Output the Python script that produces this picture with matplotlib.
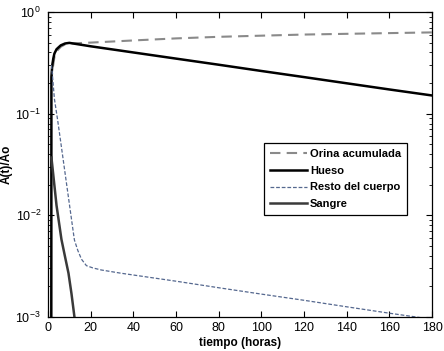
import numpy as np
import matplotlib
matplotlib.use("Agg")
import matplotlib.pyplot as plt
from matplotlib.ticker import LogLocator, NullFormatter

plt.rcParams['font.family'] = ['Liberation Sans', 'DejaVu Sans']

# datos (A(t)/Ao vs tiempo en horas)
t_orina = [1.6, 2, 3, 4, 6, 8, 10, 20, 40, 60, 80, 100, 120, 140, 160, 180]
orina = [0.2, 0.26, 0.36, 0.41, 0.455, 0.48, 0.49, 0.50, 0.525, 0.55, 0.57,
         0.585, 0.60, 0.61, 0.62, 0.63]

t_hueso = [1.5, 1.6, 2, 2.5, 3, 4, 5, 6, 8, 10, 20, 40, 60, 80, 100, 120,
           140, 160, 180]
hueso = [1e-5, 0.23, 0.3, 0.35, 0.39, 0.43, 0.45, 0.47, 0.49, 0.497, 0.46,
         0.40, 0.348, 0.303, 0.263, 0.229, 0.199, 0.173, 0.151]

t_resto = [1.6, 2, 3, 4.5, 6, 8, 10, 12, 12.4, 14, 15.7, 18, 21, 25, 34, 60,
           80, 100, 120, 140, 160, 180]
resto = [0.3, 0.25, 0.14, 0.087, 0.052, 0.026, 0.013, 0.0065, 0.0057, 0.0045,
         0.0037, 0.0032, 0.00304, 0.0029, 0.0027, 0.00225, 0.00194, 0.00168,
         0.00146, 0.00126, 0.00109, 0.00095]

t_sangre = [1.6, 2, 4, 6.3, 8, 9.6, 11, 12.4, 13]
sangre = [0.037, 0.031, 0.0125, 0.0058, 0.0039, 0.0027, 0.0017, 0.001, 0.0008]

fig = plt.figure(figsize=(4.44, 3.51), dpi=100)
ax = fig.add_axes([48 / 444, 1 - 317 / 351, (432 - 48) / 444, (317 - 12) / 351])

ax.plot(t_orina, orina, color='#8a8a8a', lw=1.5, ls=(0, (5, 3)), label='Orina acumulada')
ax.plot(t_hueso, hueso, color='black', lw=1.8, label='Hueso')
ax.plot(t_resto, resto, color='#55688f', lw=0.9, ls=(0, (3, 1.5)), label='Resto del cuerpo')
ax.plot(t_sangre, sangre, color='#3a3a3a', lw=1.8, label='Sangre')

ax.set_yscale('log')
ax.set_xlim(0, 180)
ax.set_ylim(1e-3, 1)
ax.set_xticks(np.arange(0, 181, 20))
ax.yaxis.set_minor_locator(LogLocator(base=10, subs=np.arange(2, 10)))
ax.yaxis.set_minor_formatter(NullFormatter())
ax.tick_params(which='both', direction='in', top=True, right=True, labelsize=9)
ax.tick_params(which='major', length=4, width=0.8)
ax.tick_params(axis='y', which='major', pad=5)
ax.tick_params(which='minor', length=2.5, width=0.6)
for s in ax.spines.values():
    s.set_linewidth(0.9)

ax.set_xlabel('tiempo (horas)', fontsize=8.5, fontweight='bold', labelpad=2)
ax.set_ylabel('A(t)/Ao', fontsize=8.5, fontweight='bold', labelpad=2)

leg = ax.legend(loc='upper left', bbox_to_anchor=(264 / 444, 1 - 143 / 351),
                bbox_transform=fig.transFigure, borderaxespad=0,
                fancybox=False, framealpha=1, edgecolor='black',
                prop={'size': 8, 'weight': 'bold'}, handlelength=3.3,
                handletextpad=0.3, labelspacing=0.6, borderpad=0.55)
leg.get_frame().set_linewidth(0.9)

fig.savefig('out.png', dpi=100)
